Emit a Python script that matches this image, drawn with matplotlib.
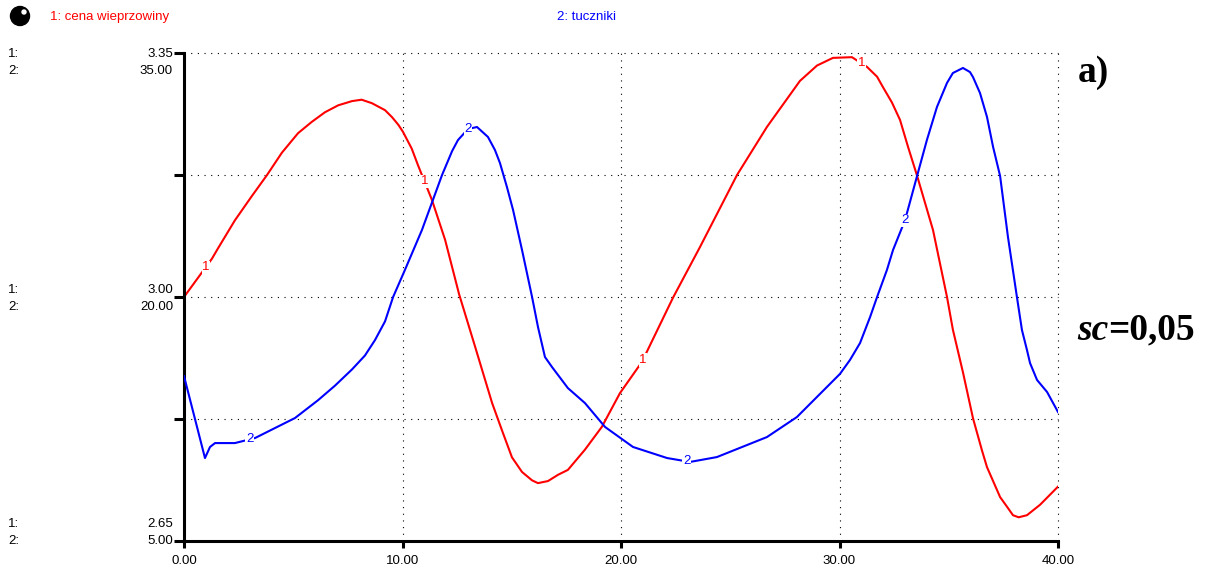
import numpy as np
import matplotlib

matplotlib.use("Agg")
import matplotlib.pyplot as plt
from matplotlib.patches import Ellipse

plt.rcParams["font.family"] = ["Liberation Sans", "DejaVu Sans"]

# time axis and the two series
t_price = [0, 1.28, 1.56, 2.33, 3.11, 3.80, 4.48, 5.22, 5.84, 6.45, 7.06, 7.69, 8.13,
           8.60, 9.20, 9.52, 9.81, 10.02, 10.42, 10.71, 11.35, 11.95, 12.59, 13.32,
           14.10, 14.55, 15.01, 15.47, 15.93, 16.20, 16.66, 17.12, 17.57, 18.35, 19.13,
           19.95, 20.96, 22.38, 23.62, 25.31, 26.68, 28.19, 28.97, 29.70, 30.57, 31.26,
           31.72, 31.99, 32.40, 32.77, 33.14, 33.55, 34.28, 34.92, 35.19, 35.65, 36.11,
           36.52, 36.75, 37.35, 37.67, 37.94, 38.2, 38.58, 39.18, 40]
price = [3.000, 3.055, 3.070, 3.110, 3.145, 3.175, 3.207, 3.235, 3.251, 3.265, 3.275,
         3.281, 3.283, 3.278, 3.268, 3.258, 3.247, 3.237, 3.213, 3.189, 3.139, 3.082,
         3.004, 2.929, 2.848, 2.809, 2.770, 2.749, 2.737, 2.733, 2.736, 2.745, 2.752,
         2.781, 2.814, 2.862, 2.907, 2.999, 3.072, 3.175, 3.244, 3.310, 3.332, 3.343,
         3.344, 3.330, 3.316, 3.301, 3.279, 3.254, 3.215, 3.174, 3.096, 3.000, 2.953,
         2.892, 2.826, 2.780, 2.756, 2.713, 2.699, 2.687, 2.684, 2.687, 2.702, 2.728]

t_pigs = [0, 0.96, 1.19, 1.42, 2.33, 3.25, 5.08, 6.13, 6.91, 7.69, 8.28, 8.74, 9.20,
          9.57, 10.11, 10.89, 11.81, 12.27, 12.54, 13.0, 13.41, 13.91, 14.23, 14.46,
          14.78, 15.06, 15.47, 15.93, 16.20, 16.52, 16.84, 17.57, 18.35, 19.27, 20.55,
          22.11, 23.16, 24.39, 26.68, 28.05, 30.02, 30.48, 30.94, 31.40, 31.72, 32.17,
          32.45, 33.0, 33.55, 34.0, 34.46, 34.92, 35.19, 35.65, 35.97, 36.11, 36.43,
          36.75, 37.03, 37.35, 37.71, 38.12, 38.35, 38.58, 38.72, 39.04, 39.50, 40]
pigs = [15.14, 10.10, 10.78, 11.02, 11.02, 11.33, 12.56, 13.65, 14.55, 15.55, 16.40,
        17.35, 18.50, 20.0, 21.66, 24.12, 27.5, 28.97, 29.65, 30.33, 30.45, 29.84, 29.04,
        28.24, 26.76, 25.35, 22.89, 20.0, 18.16, 16.31, 15.70, 14.40, 13.48, 12.01,
        10.78, 10.10, 9.86, 10.16, 11.39, 12.62, 15.27, 16.13, 17.17, 18.77, 20.0, 21.66,
        22.89, 24.73, 27.44, 29.65, 31.68, 33.16, 33.77, 34.08, 33.83, 33.52, 32.54,
        31.07, 29.22, 27.44, 23.69, 20.0, 17.97, 16.74, 15.94, 14.90, 14.16, 12.93]

x_ticks = [0, 10, 20, 30, 40]
price_ticks = [2.65, 2.825, 3.00, 3.175, 3.35]
pigs_ticks = [5, 12.5, 20, 27.5, 35]
labelled = [0, 2, 4]  # which y ticks carry the "1:/2:" value pair

price_marks = [1, 11, 21, 31]
pigs_marks = [3, 13, 23, 33]

RED = "#ff0000"
BLUE = "#0000ff"
W, H = 1211, 576

fig = plt.figure(figsize=(W / 100, H / 100), dpi=100)
ax = fig.add_axes([184 / W, 1 - 541 / H, (1058 - 184) / W, (541 - 53) / H])

ax.plot(t_price, price, color=RED, lw=1.5)
for tm in price_marks:
    ax.text(tm, np.interp(tm, t_price, price), "1", color=RED, fontsize=9.5,
            ha="center", va="center",
            bbox=dict(fc="white", ec="none", pad=0.4))

ax.set_xlim(0, 40)
ax.set_ylim(2.65, 3.35)
ax.set_xticks(x_ticks)
ax.set_xticklabels([f"{v:.2f}" for v in x_ticks])
ax.set_yticks(price_ticks)
ax.tick_params(axis="y", length=7, width=2.2, labelleft=False)
ax.tick_params(axis="x", length=5, width=2.2, labelsize=9.5, pad=5)

ax.grid(True, color="black", lw=0.8, linestyle=(0, (1, 5)))
for gl in ax.get_xgridlines() + ax.get_ygridlines():
    gl.set_clip_on(False)
ax.spines["top"].set_visible(False)
ax.spines["right"].set_visible(False)
ax.spines["left"].set_linewidth(2.2)
ax.spines["bottom"].set_linewidth(2.2)

# second series on its own scale
ax2 = ax.twinx()
ax2.set_ylim(5, 35)
ax2.axis("off")
ax2.plot(t_pigs, pigs, color=BLUE, lw=1.5)
for tm in pigs_marks:
    ax2.text(tm, np.interp(tm, t_pigs, pigs), "2", color=BLUE, fontsize=9.5,
             ha="center", va="center",
             bbox=dict(fc="white", ec="none", pad=0.4))

# stacked value labels on the left, vertical offsets in pixels
offsets = {0: (17, 0), 2: (6.5, -10.5), 4: (-1, -18)}
for i in labelled:
    d1, d2 = offsets[i]
    p = price_ticks[i]
    for txt, dy in [(f"{price_ticks[i]:.2f}", d1), (f"{pigs_ticks[i]:.2f}", d2)]:
        ax.annotate(txt, xy=(0, p), xycoords=("axes fraction", "data"),
                    xytext=(-11, dy), textcoords="offset pixels",
                    ha="right", va="center", fontsize=9.5)
    for txt, dy in [("1:", d1), ("2:", d2)]:
        ax.annotate(txt, xy=(8, p), xycoords=("figure pixels", "data"),
                    xytext=(0, dy), textcoords="offset pixels",
                    ha="left", va="center", fontsize=9.5)

# header
fig.add_artist(Ellipse((20 / W, 1 - 16 / H), 19 / W, 19 / H,
                       transform=fig.transFigure, color="black"))
fig.add_artist(Ellipse((24 / W, 1 - 12 / H), 4 / W, 4 / H,
                       transform=fig.transFigure, color="white"))
fig.text(50 / W, 1 - 17 / H, "1: cena wieprzowiny", color=RED, fontsize=9.5, va="center")
fig.text(557 / W, 1 - 17 / H, "2: tuczniki", color=BLUE, fontsize=9.5, va="center")

# panel annotations
fig.text(1078 / W, 1 - 72 / H, "a)", family="Liberation Serif", weight="bold",
         fontsize=27, va="center")
sc = fig.text(1077 / W, 1 - 330 / H, "sc", family="Liberation Serif", weight="bold",
              style="italic", fontsize=27, va="center")
ax.annotate("=0,05", xy=(1, 0), xycoords=sc, va="bottom", ha="left",
            family="Liberation Serif", weight="bold", fontsize=27,
            annotation_clip=False)

fig.savefig("out.png", dpi=100, facecolor="white")
